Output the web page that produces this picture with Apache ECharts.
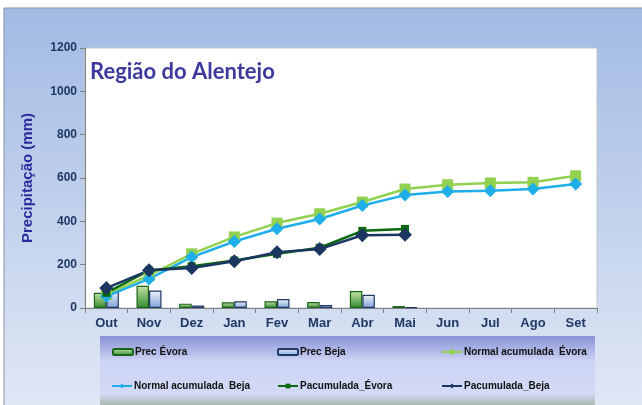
<!DOCTYPE html>
<html>
<head>
<meta charset="utf-8">
<script src="https://cdn.jsdelivr.net/npm/echarts@6/dist/echarts.min.js"></script>
<style>
  html, body { margin: 0; padding: 0; background: #ffffff; }
  #chart { width: 642px; height: 405px; }
</style>
</head>
<body>
<div id="chart"></div>
<script>
// meses do ano hidrológico
const months = ["Out", "Nov", "Dez", "Jan", "Fev", "Mar", "Abr", "Mai", "Jun", "Jul", "Ago", "Set"];

// precipitação mensal (mm)
const precEvora = [70, 103, 20, 26, 31, 28, 78, 9];
const precBeja = [77, 81, 12, 31, 41, 14, 61, 4];

// normais acumuladas
const normalEvora = [62, 150, 250, 328, 392, 435, 489, 549, 569, 577, 580, 610];
const normalBeja = [54, 134, 235, 307, 366, 411, 473, 521, 538, 541, 549, 572];

// precipitação acumulada no ano
const pacumEvora = [70, 173, 193, 219, 250, 278, 356, 365];
const pacumBeja = [92, 174, 185, 216, 257, 272, 336, 338];

const yTicks = [0, 200, 400, 600, 800, 1000, 1200];

const names = [
  "Prec Évora", "Prec Beja", "Normal acumulada  Évora",
  "Normal acumulada  Beja", "Pacumulada_Évora", "Pacumulada_Beja"
];

const chart = echarts.init(document.getElementById("chart"), null, { renderer: "canvas" });

const legendPos = [
  [112, 347], [277, 347], [441, 347],
  [111, 381], [277, 381], [441, 381]
];

const legends = names.map((n, i) => ({
  data: [n],
  left: legendPos[i][0],
  top: legendPos[i][1],
  itemWidth: 20,
  itemHeight: 6,
  itemGap: 2,
  padding: 0,
  selectedMode: false,
  textStyle: { fontFamily: "Liberation Sans", fontWeight: "bold", fontSize: 10, color: "#111", padding: [0, 0, 0, -3] }
}));

const option = {
  animation: false,
  graphic: [
    {
      type: "rect", z: -10, silent: true,
      shape: { x: 4, y: 8, width: 660, height: 420 },
      style: {
        fill: new echarts.graphic.LinearGradient(0, 0, 0, 1, [
          { offset: 0, color: "#a2bae3" },
          { offset: 1, color: "#e3eaf6" }
        ]),
        stroke: "#8a8fa8", lineWidth: 1
      }
    },
    {
      type: "rect", z: -5, silent: true,
      shape: { x: 100, y: 336, width: 495, height: 72 },
      style: {
        fill: new echarts.graphic.LinearGradient(0, 0, 0, 1, [
          { offset: 0, color: "#8891d3" },
          { offset: 0.35, color: "#ccd4f5" },
          { offset: 0.8, color: "#d2daf6" },
          { offset: 0.9, color: "#b9c5c9" },
          { offset: 1, color: "#9fb19a" }
        ])
      }
    },
    {
      type: "text", left: 90, top: 61, z: 10,
      style: { text: "Região do Alentejo", fontFamily: "Lato", fontWeight: "bold", fontSize: 22, fill: "#3b3b9d" }
    }
  ],
  legend: legends,
  grid: {
    left: 85, right: 45, top: 48, bottom: 97,
    show: true, backgroundColor: "#ffffff", borderColor: "#c4c4c4", borderWidth: 1
  },
  xAxis: {
    type: "category",
    data: months,
    boundaryGap: true,
    axisLine: { lineStyle: { color: "#7f7f7f", width: 1 } },
    axisTick: { show: true, length: 5, lineStyle: { color: "#7f7f7f" } },
    axisLabel: { fontFamily: "Liberation Sans", fontWeight: "bold", fontSize: 13, color: "#1f3864", margin: 9 }
  },
  yAxis: {
    type: "value",
    min: 0, max: 1200, interval: 200,
    name: "Precipitação (mm)",
    nameLocation: "middle",
    nameGap: 50,
    nameTextStyle: { fontFamily: "Liberation Sans", fontWeight: "bold", fontSize: 15, color: "#2b2b9b" },
    axisLine: { show: true, lineStyle: { color: "#7f7f7f", width: 1 } },
    axisTick: { show: true, length: 5, lineStyle: { color: "#7f7f7f" } },
    splitLine: { show: false },
    axisLabel: {
      fontFamily: "Liberation Sans", fontWeight: "bold", fontSize: 12, color: "#1f3864", margin: 8,
      formatter: v => yTicks.includes(v) ? String(v) : ""
    }
  },
  series: [
    {
      name: names[0], type: "bar", data: precEvora, barWidth: 12.5, barGap: "0%",
      itemStyle: {
        color: new echarts.graphic.LinearGradient(0, 0, 0, 1, [
          { offset: 0, color: "#c9e4a8" }, { offset: 1, color: "#2f8a2f" }
        ]),
        borderColor: "#1b641b", borderWidth: 1.2
      }
    },
    {
      name: names[1], type: "bar", data: precBeja, barWidth: 12.5,
      itemStyle: {
        color: new echarts.graphic.LinearGradient(0, 0, 0, 1, [
          { offset: 0, color: "#f0f4fb" }, { offset: 1, color: "#7ea1d8" }
        ]),
        borderColor: "#1f3864", borderWidth: 1.2
      }
    },
    {
      name: names[2], type: "line", data: normalEvora,
      symbol: "rect", symbolSize: 11,
      lineStyle: { color: "#92d050", width: 2.5 },
      itemStyle: { color: "#92d050" }
    },
    {
      name: names[3], type: "line", data: normalBeja,
      symbol: "diamond", symbolSize: 13,
      lineStyle: { color: "#1eaeea", width: 2.5 },
      itemStyle: { color: "#1eaeea" }
    },
    {
      name: names[4], type: "line", data: pacumEvora,
      symbol: "rect", symbolSize: 8,
      lineStyle: { color: "#0b6a0b", width: 2.5 },
      itemStyle: { color: "#0b6a0b" }
    },
    {
      name: names[5], type: "line", data: pacumBeja,
      symbol: "diamond", symbolSize: 14,
      lineStyle: { color: "#1b3660", width: 2.5 },
      itemStyle: { color: "#1b3660" }
    }
  ]
};

chart.setOption(option);
</script>
</body>
</html>
